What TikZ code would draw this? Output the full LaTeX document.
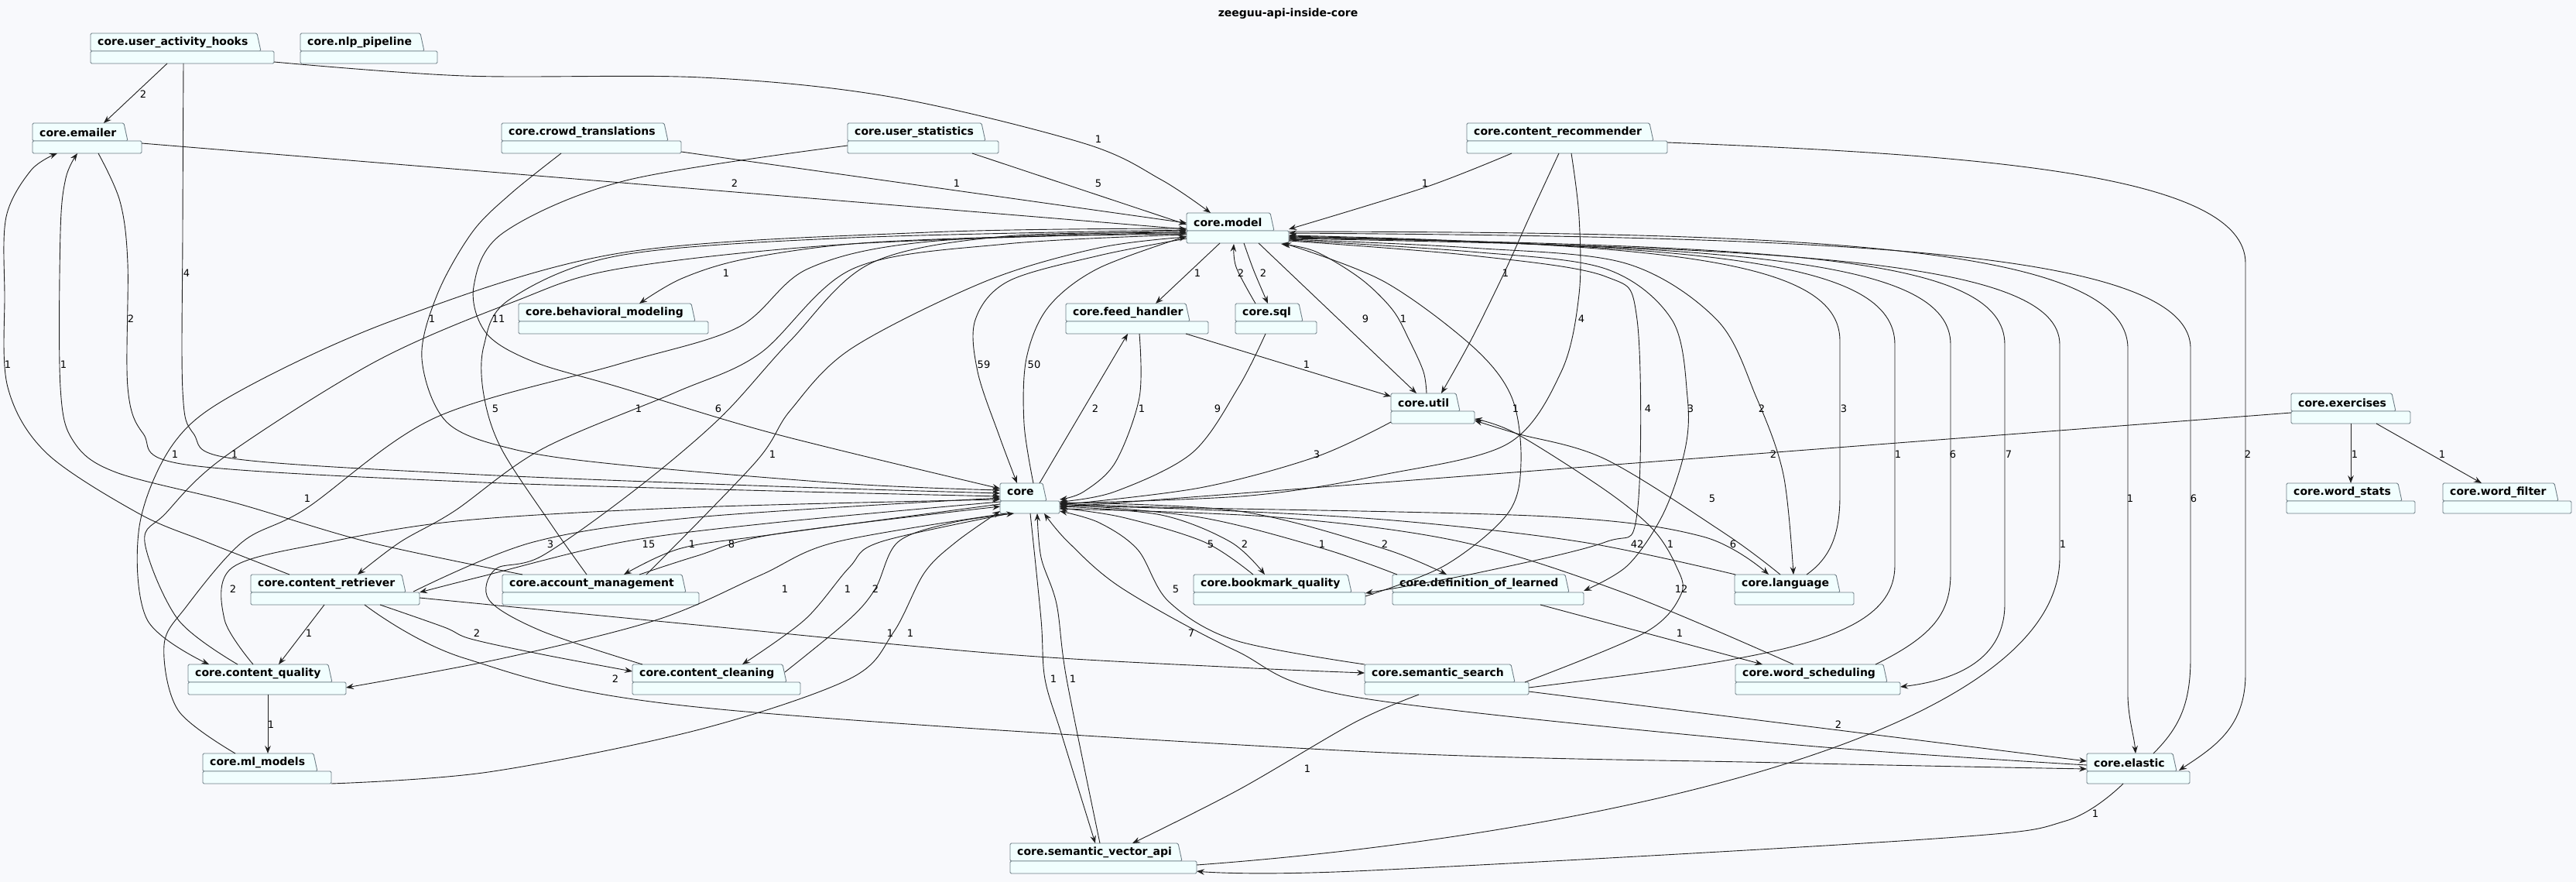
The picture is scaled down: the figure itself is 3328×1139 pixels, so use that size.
\documentclass[tikz,border=0pt]{standalone}
\usepackage{fontspec}
\setmainfont{DejaVu Sans}
\usetikzlibrary{arrows.meta}
\definecolor{bg}{HTML}{F8F9FC}
\definecolor{pfill}{HTML}{F1FEFE}
\definecolor{pline}{HTML}{6E7E86}
\definecolor{ec}{HTML}{1E1E1E}
\newcounter{lc}
\newcommand\pkg[6]{%
 \node[pbox, minimum width=#4pt, anchor=north west] (#1) at (#2,#3) {};
 \filldraw[pkgst] ([shift={(0,23)}]#1.north west) -- (#1.north west) -- ([shift={(#5-5,0)}]#1.north west) -- ([shift={(#5,23)}]#1.north west) -- cycle;
 \filldraw[pkgst] ([shift={(0,23)}]#1.north west) rectangle (#1.south east);
 \node[ptxt] (#1t) at ([shift={(9,12)}]#1.north west) {#6};
}
\newcommand\lab[3]{\stepcounter{lc}\node[lbl] (lab\arabic{lc}) at (#1,#2) {#3};}
\begin{document}
\begin{tikzpicture}[x=1pt,y=-1pt,
  pbox/.style={minimum height=39pt, inner sep=0pt, outer sep=0pt},
  pkgst/.style={fill=pfill, draw=pline, line width=0.9pt, rounded corners=1.5pt},
  ptxt/.style={anchor=west, inner sep=0pt, font=\fontsize{14}{16}\selectfont\bfseries},
  lbl/.style={inner sep=0pt, font=\fontsize{13}{15}\selectfont},
  dep/.style={draw=ec, line width=0.9pt, -{Stealth[length=10pt,width=7.5pt,inset=3.5pt]}},
  sm/.style={smooth, tension=0.55}]
\fill[bg] (0,0) rectangle (3328,1139);
\useasboundingbox (0,0) rectangle (3328,1139);
\node[font=\fontsize{14}{16}\selectfont\bfseries] (title) at (1664,18) {zeeguu-api-inside-core};
% packages
\pkg{UAH}{117}{43}{237}{220}{core.user\_activity\_hooks}
\pkg{NLP}{388}{43}{177}{160}{core.nlp\_pipeline}
\pkg{EM}{42}{159}{141}{123}{core.emailer}
\pkg{CT}{648}{159}{232}{215}{core.crowd\_translations}
\pkg{US}{1095}{159}{195}{178}{core.user\_statistics}
\pkg{CR}{1895}{159}{259}{241}{core.content\_recommender}
\pkg{M}{1533}{275}{132}{113}{core.model}
\pkg{BM}{670}{392}{245}{228}{core.behavioral\_modeling}
\pkg{FH}{1377}{392}{184}{160}{core.feed\_handler}
\pkg{SQL}{1596}{392}{105}{87}{core.sql}
\pkg{U}{1797}{508}{108}{89}{core.util}
\pkg{EX}{2960}{508}{154}{135}{core.exercises}
\pkg{C}{1292}{624}{77}{60}{core}
\pkg{WS}{2954}{624}{166}{149}{core.word\_stats}
\pkg{WF}{3156}{624}{166}{149}{core.word\_filter}
\pkg{CRT}{324}{742}{218}{200}{core.content\_retriever}
\pkg{AM}{649}{742}{254}{237}{core.account\_management}
\pkg{BQ}{1542}{742}{222}{204}{core.bookmark\_quality}
\pkg{DL}{1799}{742}{247}{228}{core.definition\_of\_learned}
\pkg{L}{2241}{742}{154}{136}{core.language}
\pkg{CQ}{243}{858}{204}{186}{core.content\_quality}
\pkg{CC}{817}{858}{217}{199}{core.content\_cleaning}
\pkg{SS}{1763}{858}{212}{194}{core.semantic\_search}
\pkg{WSch}{2242}{858}{213}{196}{core.word\_scheduling}
\pkg{ML}{262}{973}{166}{148}{core.ml\_models}
\pkg{E}{2696}{973}{133}{116}{core.elastic}
\pkg{SVA}{1305}{1089}{241}{222}{core.semantic\_vector\_api}
% edges
\draw[dep] ([shift={(99,39)}]UAH.north west) -- ([shift={(92,0)}]EM.north west);
\draw[dep] plot[sm] coordinates {([shift={(120,39)}]UAH.north west) (236,300) (236,505) (250,560) (300,592) (600,612) (1000,628) ([shift={(0,13)}]C.north west)};
\draw[dep] plot[sm] coordinates {([shift={(237,37)}]UAH.north west) (600,98) (906,100) (1150,125) (1400,185) (1500,232) ([shift={(31,0)}]M.north west)};
\draw[dep] ([shift={(141,26)}]EM.north west) -- ([shift={(0,21)}]M.north west);
\draw[dep] plot[sm] coordinates {([shift={(85,39)}]EM.north west) (155,260) (165,340) (165,500) (185,560) (240,600) (600,622) (1000,634) ([shift={(0,17)}]C.north west)};
\draw[dep] plot[sm] coordinates {([shift={(50,0)}]CRT.north west) (267,700) (179,663) (60,585) (10,500) (6,380) (8,280) (40,220) ([shift={(32,39)}]EM.north west)};
\draw[dep] plot[sm] coordinates {([shift={(26,0)}]AM.north west) (476,700) (306,650) (150,610) (95,570) (78,500) (78,300) (85,230) ([shift={(58,39)}]EM.north west)};
\draw[dep] ([shift={(232,37)}]CT.north west) -- ([shift={(0,13)}]M.north west);
\draw[dep] plot[sm] coordinates {([shift={(77,39)}]CT.north west) (660,250) (610,300) (565,380) (545,463) (577,545) (663,580) (800,600) (1100,625) ([shift={(0,9)}]C.north west)};
\draw[dep] ([shift={(161,39)}]US.north west) -- ([shift={(0,15)}]M.north west);
\draw[dep] plot[sm] coordinates {([shift={(0,29)}]US.north west) (809,233) (651,300) (612,370) (628,430) (689,467) (800,500) (1000,560) ([shift={(0,7)}]C.north west)};
\draw[dep] plot[sm] coordinates {([shift={(58,39)}]CR.north west) (1841,242) ([shift={(132,21)}]M.north west)};
\draw[dep] plot[sm] coordinates {([shift={(119,39)}]CR.north west) (1976,280) (1943,353) (1900,440) ([shift={(65,0)}]U.north west)};
\draw[dep] plot[sm] coordinates {([shift={(135,39)}]CR.north west) (2040,280) (2040,380) (2017,480) (1948,573) (1787,613) (1615,640) ([shift={(77,26)}]C.north west)};
\draw[dep] plot[sm] coordinates {([shift={(0,27)}]M.north west) (1300,306) (1100,315) (960,335) (880,360) ([shift={(156,0)}]BM.north west)};
\draw[dep] ([shift={(43,39)}]M.north west) -- ([shift={(116,0)}]FH.north west);
\draw[dep] plot[sm] coordinates {([shift={(26,0)}]SQL.north west) (1597,345) ([shift={(61,40)}]M.north west)};
\draw[dep] plot[sm] coordinates {([shift={(74,39)}]M.north west) (1620,350) ([shift={(42,0)}]SQL.north west)};
\draw[dep] ([shift={(93,39)}]M.north west) -- ([shift={(33,0)}]U.north west);
\draw[dep] plot[sm] coordinates {([shift={(46,0)}]U.north west) (1839,480) (1821,440) (1799,400) (1758,360) (1700,325) ([shift={(122,40)}]M.north west)};
\draw[dep] plot[sm] coordinates {([shift={(0,33)}]M.north west) (1420,330) (1303,363) (1260,413) (1263,480) (1291,563) ([shift={(22,0)}]C.north west)};
\draw[dep] plot[sm] coordinates {([shift={(43,0)}]C.north west) (1323,547) (1326,463) (1354,397) (1418,347) ([shift={(0,30)}]M.north west)};
\draw[dep] ([shift={(155,39)}]FH.north west) -- ([shift={(0,4)}]U.north west);
\draw[dep] ([shift={(51,0)}]C.north west) -- ([shift={(80,39)}]FH.north west);
\draw[dep] plot[sm] coordinates {([shift={(95,39)}]FH.north west) (1472,513) (1441,597) (1400,635) ([shift={(77,21)}]C.north west)};
\draw[dep] plot[sm] coordinates {([shift={(39,39)}]SQL.north west) (1600,500) (1540,585) (1440,635) ([shift={(77,24)}]C.north west)};
\draw[dep] plot[sm] coordinates {([shift={(0,37)}]U.north west) (1700,590) (1550,630) ([shift={(77,28)}]C.north west)};
\draw[dep] ([shift={(0,25)}]EX.north west) -- ([shift={(77,31)}]C.north west);
\draw[dep] ([shift={(77,39)}]EX.north west) -- ([shift={(83,0)}]WS.north west);
\draw[dep] ([shift={(110,39)}]EX.north west) -- ([shift={(50,0)}]WF.north west);
% long verticals on the right
\draw[dep] ([shift={(259,25)}]CR.north west) .. controls (2560,200) and (2901,225) .. (2901,340) -- (2901,870) .. controls (2901,940) and (2860,965) .. ([shift={(119,22)}]E.north west);
\draw[dep] ([shift={(132,24)}]M.north west) .. controls (2300,300) and (2749,312) .. (2749,450) -- (2749,900) .. controls (2750,930) and (2757,950) .. ([shift={(63,0)}]E.north west);
\draw[dep] ([shift={(86,0)}]E.north west) .. controls (2815,940) and (2830,910) .. (2830,850) -- (2830,450) .. controls (2830,320) and (2350,306) .. ([shift={(132,26)}]M.north west);
\draw[dep] ([shift={(93,0)}]L.north west) .. controls (2365,720) and (2377,690) .. (2377,640) -- (2377,440) .. controls (2377,335) and (2150,316) .. ([shift={(132,29)}]M.north west);
\draw[dep] ([shift={(212,30)}]SS.north west) .. controls (2280,850) and (2448,830) .. (2448,730) -- (2448,445) .. controls (2448,335) and (2200,318) .. ([shift={(132,30)}]M.north west);
\draw[dep] ([shift={(181,0)}]WSch.north west) .. controls (2500,820) and (2520,790) .. (2520,740) -- (2520,445) .. controls (2520,335) and (2250,319) .. ([shift={(132,31)}]M.north west);
\draw[dep] ([shift={(132,32)}]M.north west) .. controls (2300,318) and (2590,330) .. (2590,445) -- (2590,780) .. controls (2590,850) and (2530,878) .. ([shift={(213,29)}]WSch.north west);
\draw[dep] ([shift={(241,28)}]SVA.north west) .. controls (2050,1080) and (2661,950) .. (2661,720) -- (2661,445) .. controls (2661,335) and (2300,320) .. ([shift={(132,33)}]M.north west);
\draw[dep] plot[sm] coordinates {([shift={(132,34)}]M.north west) (1900,320) (2100,340) (2218,413) (2269,513) (2304,613) ([shift={(76,0)}]L.north west)};
\draw[dep] plot[sm] coordinates {([shift={(132,35)}]M.north west) (1900,325) (2074,347) (2160,413) (2180,513) (2177,580) (2149,663) (2103,730) ([shift={(247,21)}]DL.north west)};
\draw[dep] plot[sm] coordinates {([shift={(132,36)}]M.north west) (1902,330) (2074,357) (2115,413) (2115,663) (2074,700) (1908,740) ([shift={(222,24)}]BQ.north west)};
\draw[dep] plot[sm] coordinates {([shift={(222,28)}]BQ.north west) (1867,730) (1948,663) (1965,597) (1953,513) (1902,447) (1787,363) ([shift={(125,39)}]M.north west)};
\draw[dep] plot[sm] coordinates {([shift={(77,26)}]C.north west) (1500,655) (2000,667) (2200,693) ([shift={(44,0)}]L.north west)};
\draw[dep] plot[sm] coordinates {([shift={(1,0)}]L.north west) (2044,700) (1800,672) (1550,658) ([shift={(77,29)}]C.north west)};
\draw[dep] plot[sm] coordinates {([shift={(59,0)}]L.north west) (2230,690) (2074,593) (1960,560) ([shift={(108,35)}]U.north west)};
\draw[dep] ([shift={(191,39)}]DL.north west) -- ([shift={(35,0)}]WSch.north west);
\draw[dep] plot[sm] coordinates {([shift={(207,23)}]SS.north west) (2125,817) (2172,767) (2165,730) (2135,683) (2074,633) (1959,560) ([shift={(108,33)}]U.north west)};
\draw[dep] plot[sm] coordinates {([shift={(75,0)}]WSch.north west) (2102,767) (1889,700) (1650,668) ([shift={(77,33)}]C.north west)};
\draw[dep] plot[sm] coordinates {([shift={(0,0)}]SS.north west) (1596,827) (1510,777) (1470,710) (1420,675) ([shift={(77,36)}]C.north west)};
\draw[dep] plot[sm] coordinates {([shift={(218,30)}]CRT.north west) (900,807) (1300,845) (1600,862) ([shift={(0,11)}]SS.north west)};
\draw[dep] plot[sm] coordinates {([shift={(0,15)}]E.north west) (2300,960) (1750,900) (1596,840) (1450,760) (1380,700) ([shift={(57,39)}]C.north west)};
\draw[dep] ([shift={(212,35)}]SS.north west) -- ([shift={(0,10)}]E.north west);
\draw[dep] plot[sm] coordinates {([shift={(147,39)}]CRT.north west) (600,850) (900,913) (1750,970) (2300,985) ([shift={(0,20)}]E.north west)};
\draw[dep] plot[sm] coordinates {([shift={(167,39)}]CRT.north west) (574,810) (608,825) (700,845) ([shift={(0,9)}]CC.north west)};
\draw[dep] ([shift={(95,39)}]CRT.north west) -- ([shift={(117,0)}]CQ.north west);
\draw[dep] ([shift={(103,39)}]CQ.north west) -- ([shift={(84,0)}]ML.north west);
\draw[dep] plot[sm] coordinates {([shift={(84,0)}]CQ.north west) (290,800) (300,733) (425,700) (600,672) (900,655) ([shift={(0,21)}]C.north west)};
\draw[dep] plot[sm] coordinates {([shift={(0,20)}]M.north west) (1200,300) (800,327) (510,413) (306,507) (224,573) (180,680) (190,800) ([shift={(27,0)}]CQ.north west)};
\draw[dep] plot[sm] coordinates {([shift={(64,0)}]CQ.north west) (230,800) (187,700) (214,663) (290,590) (485,467) (663,390) (800,347) (1100,315) ([shift={(0,25)}]M.north west)};
\draw[dep] plot[sm] coordinates {([shift={(42,0)}]ML.north west) (230,917) (212,833) (241,783) (313,700) (395,657) (561,540) (800,470) (953,423) (1044,347) (1200,312) ([shift={(0,23)}]M.north west)};
\draw[dep] plot[sm] coordinates {([shift={(166,39)}]ML.north west) (631,997) (900,943) (1097,877) (1154,817) (1194,740) (1235,700) ([shift={(0,36)}]C.north west)};
\draw[dep] plot[sm] coordinates {([shift={(109,0)}]AM.north west) (714,680) (648,580) (625,510) (625,447) (658,387) (800,330) (1100,307) ([shift={(0,22)}]M.north west)};
\draw[dep] plot[sm] coordinates {([shift={(13,0)}]CC.north west) (700,815) (632,775) (640,735) (700,718) (820,633) (930,540) (1021,440) (1125,340) (1300,305) ([shift={(0,26)}]M.north west)};
\draw[dep] plot[sm] coordinates {([shift={(186,0)}]AM.north west) (976,597) (1021,530) (1100,450) (1274,363) (1420,320) ([shift={(0,31)}]M.north west)};
\draw[dep] plot[sm] coordinates {([shift={(0,28)}]M.north west) (1300,315) (1102,347) (981,457) (872,507) (700,580) (587,660) (517,700) ([shift={(138,0)}]CRT.north west)};
\draw[dep] plot[sm] coordinates {([shift={(210,22)}]CRT.north west) (689,700) (900,668) ([shift={(0,19)}]C.north west)};
\draw[dep] plot[sm] coordinates {([shift={(0,24)}]C.north west) (1000,675) (804,700) (620,745) ([shift={(218,23)}]CRT.north west)};
\draw[dep] plot[sm] coordinates {([shift={(0,27)}]C.north west) (1000,690) (880,708) ([shift={(157,0)}]AM.north west)};
\draw[dep] plot[sm] coordinates {([shift={(177,0)}]AM.north west) (900,718) (1000,690) ([shift={(0,30)}]C.north west)};
\draw[dep] plot[sm] coordinates {([shift={(77,0)}]BQ.north west) (1556,700) (1450,668) ([shift={(77,32)}]C.north west)};
\draw[dep] plot[sm] coordinates {([shift={(77,30)}]C.north west) (1500,665) (1590,700) ([shift={(92,0)}]BQ.north west)};
\draw[dep] plot[sm] coordinates {([shift={(6,0)}]DL.north west) (1708,708) (1550,668) ([shift={(77,27)}]C.north west)};
\draw[dep] plot[sm] coordinates {([shift={(77,25)}]C.north west) (1600,660) (1786,708) ([shift={(70,0)}]DL.north west)};
\draw[dep] plot[sm] coordinates {([shift={(8,39)}]C.north west) (1080,700) (982,743) (850,800) (650,850) ([shift={(204,30)}]CQ.north west)};
\draw[dep] plot[sm] coordinates {([shift={(13,39)}]C.north west) (1137,700) (1097,733) (1040,800) ([shift={(142,0)}]CC.north west)};
\draw[dep] plot[sm] coordinates {([shift={(197,10)}]CC.north west) (1097,800) (1131,760) (1160,700) (1230,675) ([shift={(18,39)}]C.north west)};
\draw[dep] plot[sm] coordinates {([shift={(39,39)}]C.north west) (1345,800) (1350,877) (1372,950) ([shift={(110,0)}]SVA.north west)};
\draw[dep] plot[sm] coordinates {([shift={(116,0)}]SVA.north west) (1378,877) (1365,780) (1345,720) ([shift={(48,39)}]C.north west)};
\draw[dep] plot[sm] coordinates {([shift={(70,39)}]SS.north west) (1750,933) (1600,1020) ([shift={(158,0)}]SVA.north west)};
\draw[dep] plot[sm] coordinates {([shift={(47,39)}]E.north west) (2669,1060) (2500,1083) (1750,1125) ([shift={(241,36)}]SVA.north west)};
% labels
\lab{185}{122}{2}\lab{1419}{180}{1}\lab{949}{237}{2}\lab{1236}{237}{1}\lab{1419}{237}{5}\lab{1841}{237}{1}
\lab{241}{353}{4}\lab{938}{353}{1}\lab{1547}{353}{1}\lab{1603}{353}{2}\lab{1632}{353}{2}\lab{1945}{353}{1}
\lab{169}{412}{2}\lab{558}{412}{1}\lab{644}{412}{11}\lab{1764}{412}{9}\lab{1813}{412}{1}\lab{2043}{412}{4}
\lab{10}{471}{1}\lab{82}{471}{1}\lab{1271}{471}{59}\lab{1336}{471}{50}\lab{1688}{471}{1}
\lab{640}{528}{5}\lab{825}{528}{1}\lab{928}{528}{6}\lab{1415}{528}{2}\lab{1475}{528}{1}\lab{1573}{528}{9}\lab{1958}{528}{1}\lab{2129}{528}{4}\lab{2184}{528}{3}\lab{2276}{528}{2}\lab{2382}{528}{3}
\lab{226}{587}{1}\lab{303}{587}{1}\lab{998}{587}{1}\lab{1701}{587}{3}\lab{2291}{587}{2}\lab{2452}{587}{1}\lab{2523}{587}{6}\lab{2595}{587}{7}\lab{2904}{587}{2}\lab{3042}{587}{1}\lab{3155}{587}{1}
\lab{397}{644}{1}\lab{2212}{644}{5}\lab{2752}{644}{1}\lab{2834}{644}{6}
\lab{711}{703}{3}\lab{838}{703}{15}\lab{894}{703}{1}\lab{945}{703}{8}\lab{1564}{703}{5}\lab{1608}{703}{2}\lab{1708}{703}{1}\lab{1789}{703}{2}\lab{2115}{703}{42}\lab{2158}{703}{1}\lab{2239}{703}{6}\lab{2665}{703}{1}
\lab{301}{761}{2}\lab{1014}{761}{1}\lab{1095}{761}{1}\lab{1131}{761}{2}\lab{1519}{761}{5}\lab{2172}{761}{12}
\lab{399}{818}{1}\lab{616}{818}{2}\lab{1150}{818}{1}\lab{1176}{818}{1}\lab{1539}{818}{7}\lab{2170}{818}{1}
\lab{795}{877}{2}\lab{1361}{877}{1}\lab{1386}{877}{1}
\lab{350}{936}{1}\lab{2375}{936}{2}
\lab{1689}{993}{1}
\lab{2707}{1051}{1}
\end{tikzpicture}
\end{document}
